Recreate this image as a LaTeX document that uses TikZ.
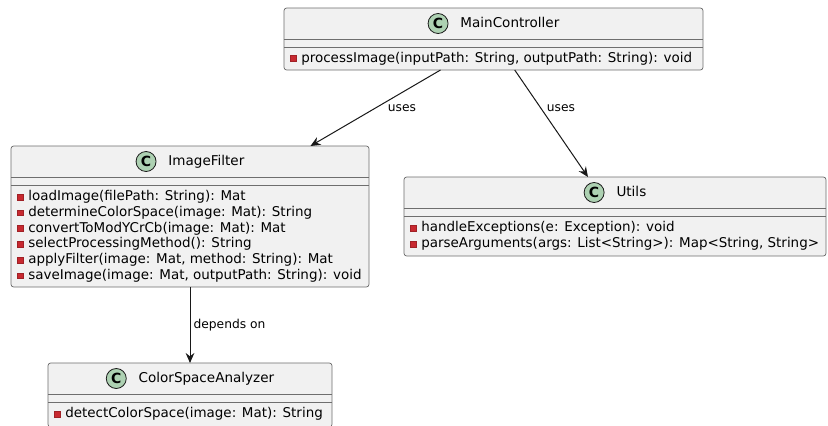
\documentclass[tikz,border=0pt]{standalone}
\usepackage{fontspec}
\setmainfont{DejaVu Sans}
\usetikzlibrary{arrows.meta}
\definecolor{umlfill}{HTML}{F1F1F1}
\definecolor{umlline}{HTML}{181818}
\definecolor{sepgray}{HTML}{6E6E6E}
\definecolor{cgreen}{HTML}{ADD1B2}
\definecolor{privred}{HTML}{C82930}
\tikzset{
  classbox/.style={rectangle, draw=sepgray, fill=umlfill, line width=0.55pt, rounded corners=2pt, inner sep=0pt, outer sep=0pt},
  sepline/.style={draw=sepgray, line width=0.55pt},
  ctitle/.style={inner sep=0pt, font=\fontsize{10.15pt}{12pt}\selectfont},
  member/.style={anchor=west, inner sep=0pt, text height=7.6pt, text depth=2.2pt, font=\fontsize{10.1pt}{12pt}\selectfont},
  privmark/.style={rectangle, fill=privred, draw=privred!80!black, line width=0.3pt, minimum size=4.4pt, inner sep=0pt},
  conn/.style={draw=umlline, line width=0.75pt, -{Stealth[length=7.5pt,width=6.5pt,inset=2.5pt]}},
  elabel/.style={font=\fontsize{9.2pt}{11pt}\selectfont, inner sep=1pt, text=black},
}
\newcommand\classicon{\tikz[baseline=-0.5ex]\node[circle, draw=umlline, fill=cgreen, line width=0.6pt, minimum size=15pt, inner sep=0pt, font=\bfseries\fontsize{10.5pt}{10.5pt}\selectfont]{C};}
\newcommand\umember[4]{%
  \node[privmark] (#1s) at (#2+9.5,#3) {};
  \node[member] (#1) at (#2+17,#3) {#4};}
\begin{document}
\begin{tikzpicture}[x=0.75pt,y=-0.75pt]
\useasboundingbox (0,0) rectangle (828,425);
\clip (0,0) rectangle (828,425);
\fill[white] (0,0) rectangle (828,425);

% MainController
\node[classbox, minimum width=314.25pt, minimum height=46.5pt] (mc) at (493.5,39) {};
\draw[sepline] (284,39) -- (703,39);
\draw[sepline] (284,47) -- (703,47);
\node[ctitle] (mct) at (493.5,23.5) {\classicon\hspace{9pt}MainController};
\umember{mc1}{284}{58.5}{processImage(inputPath: String, outputPath: String): void}

% ImageFilter
\node[classbox, minimum width=268.5pt, minimum height=105.75pt] (if) at (190,216.5) {};
\draw[sepline] (11,177) -- (369,177);
\draw[sepline] (11,185) -- (369,185);
\node[ctitle] (ift) at (190,161.5) {\classicon\hspace{9pt}ImageFilter};
\umember{if1}{11}{197}{loadImage(filePath: String): Mat}
\umember{if2}{11}{212.75}{determineColorSpace(image: Mat): String}
\umember{if3}{11}{228.5}{convertToModYCrCb(image: Mat): Mat}
\umember{if4}{11}{244.25}{selectProcessingMethod(): String}
\umember{if5}{11}{260}{applyFilter(image: Mat, method: String): Mat}
\umember{if6}{11}{275.75}{saveImage(image: Mat, outputPath: String): void}

% Utils
\node[classbox, minimum width=316.5pt, minimum height=59.25pt] (ut) at (615,216.5) {};
\draw[sepline] (404,208) -- (826,208);
\draw[sepline] (404,216) -- (826,216);
\node[ctitle] (utt) at (615,192.5) {\classicon\hspace{9pt}Utils};
\umember{ut1}{404}{228}{handleExceptions(e: Exception): void}
\umember{ut2}{404}{244}{parseArguments(args: List<String>): Map<String, String>}

% ColorSpaceAnalyzer
\node[classbox, minimum width=213pt, minimum height=48pt] (csa) at (190,395) {};
\draw[sepline] (48,394) -- (332,394);
\draw[sepline] (48,402) -- (332,402);
\node[ctitle] (csat) at (190,378.5) {\classicon\hspace{9pt}ColorSpaceAnalyzer};
\umember{csa1}{48}{414}{detectColorSpace(image: Mat): String}

% connectors
\draw[conn] (mc) -- (if);
\draw[conn] (mc) -- (ut);
\draw[conn] (if) -- (csa);
\node[elabel] (l1) at (402,108) {uses};
\node[elabel] (l2) at (561,108) {uses};
\node[elabel, anchor=west] (l3) at (192,325) {depends on};
\end{tikzpicture}
\end{document}
